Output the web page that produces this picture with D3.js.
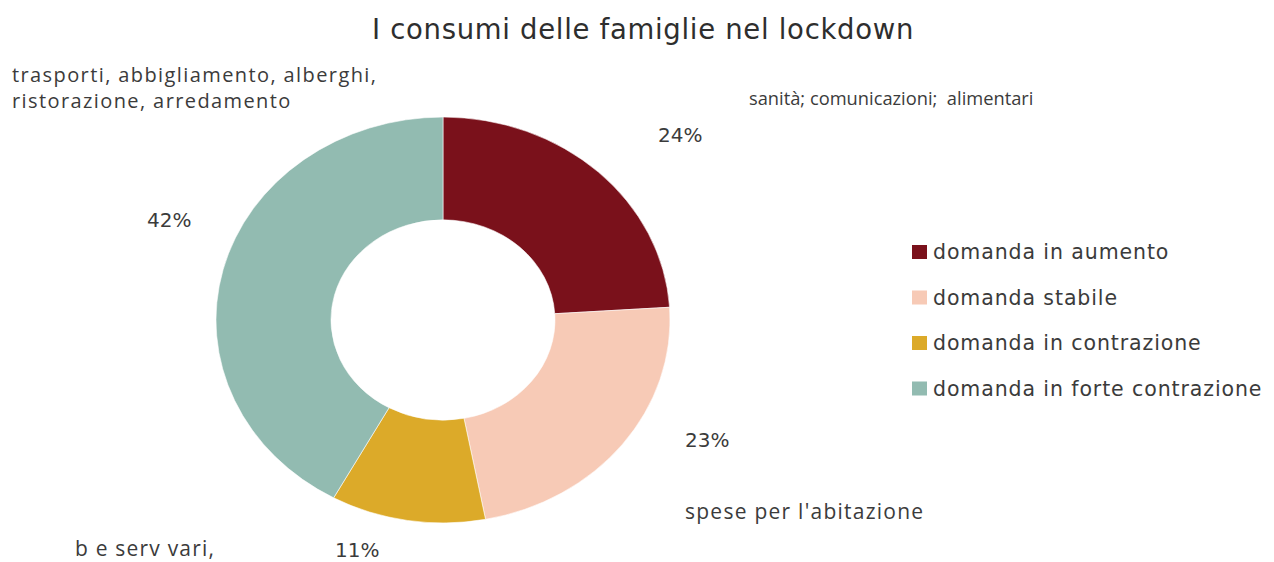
<!DOCTYPE html>
<html>
<head>
<meta charset="utf-8">
<script src="https://d3js.org/d3.v7.min.js"></script>
<style>
  body { margin: 0; background: #fff; }
  svg { display: block; }
  text { white-space: pre; }
</style>
</head>
<body>
<svg id="chart"></svg>
<script>
// chart data
const title = "I consumi delle famiglie nel lockdown";
const categories = ["domanda in aumento", "domanda stabile", "domanda in contrazione", "domanda in forte contrazione"];
const shares = [24, 23, 11, 42];
const sliceColors = ["#7a111b", "#f7cab6", "#dcaa29", "#92bbb1"];
const sliceNotes = [
  ["sanità; comunicazioni;  alimentari"],
  ["spese per l'abitazione"],
  ["b e serv vari,"],
  ["trasporti, abbigliamento, alberghi,", "ristorazione, arredamento"],
];

const W = 1274, H = 562;
const cx = 443, cy = 320;
const rOuter = 227, rInner = 112, squash = 0.894;
const textColor = "#3b3b3b";

const svg = d3.select("#chart").attr("width", W).attr("height", H);

svg.append("text")
  .attr("x", 643).attr("y", 39)
  .attr("text-anchor", "middle")
  .attr("font-family", "DejaVu Sans")
  .attr("font-size", 27.5)
  .attr("letter-spacing", 0.7)
  .attr("fill", "#2e2e2e")
  .text(title);

const data = categories.map((c, i) => ({ cat: c, value: shares[i], color: sliceColors[i], note: sliceNotes[i] }));

const pie = d3.pie().sort(null).value((d) => d.value);
const arc = d3.arc().innerRadius(rInner).outerRadius(rOuter);
const arcs = pie(data);

const g = svg.append("g").attr("transform", `translate(${cx},${cy}) scale(1,${squash})`);
g.selectAll("path")
  .data(arcs)
  .enter()
  .append("path")
  .attr("d", arc)
  .attr("fill", (d) => d.data.color)
  .attr("stroke", "#fff")
  .attr("stroke-width", 0.6);

// label placement (offsets from donut centre), hand placed like the original
const pctPos = [[215, -178], [242, 127], [-108, 237], [-296, -93]];
const notePos = [[306, -215], [242, 199], [-368, 236], [-431, -238]];
const noteSize = [18.3, 21, 21, 20];
const noteSpacing = [0, 1.25, 1.2, 1.4];

const labels = svg.append("g").attr("transform", `translate(${cx},${cy})`);
labels.selectAll(".pct")
  .data(arcs)
  .enter()
  .append("text")
  .attr("class", "pct")
  .attr("x", (d, i) => pctPos[i][0])
  .attr("y", (d, i) => pctPos[i][1])
  .attr("font-family", "DejaVu Sans")
  .attr("font-size", 20)
  .attr("fill", textColor)
  .text((d) => `${d.data.value}%`);

// multi-line notes get one text element per line
labels.selectAll(".note")
  .data(arcs.flatMap((d, i) => d.data.note.map((t, j) => ({ t, i, j }))))
  .enter()
  .append("text")
  .attr("class", "note")
  .attr("x", (d) => notePos[d.i][0])
  .attr("y", (d) => notePos[d.i][1] + d.j * 26)
  .attr("font-family", "Open Sans")
  .attr("font-size", (d) => noteSize[d.i])
  .attr("letter-spacing", (d) => noteSpacing[d.i])
  .attr("fill", textColor)
  .text((d) => d.t);

// legend
const legend = svg.append("g").attr("transform", "translate(912,245)");
const row = legend.selectAll("g")
  .data(data)
  .enter()
  .append("g")
  .attr("transform", (d, i) => `translate(0,${i * 45.5})`);
row.append("rect")
  .attr("width", 15).attr("height", 14)
  .attr("fill", (d) => d.color);
row.append("text")
  .attr("x", 21).attr("y", 14)
  .attr("font-family", "DejaVu Sans")
  .attr("font-size", 20.5)
  .attr("letter-spacing", 0.9)
  .attr("fill", textColor)
  .text((d) => d.cat);
</script>
</body>
</html>
